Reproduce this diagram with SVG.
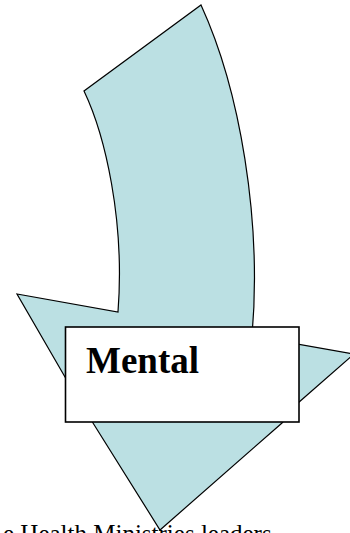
<svg xmlns="http://www.w3.org/2000/svg" width="350" height="533" viewBox="0 0 350 533">
<style>
.arrow{fill:#bbe0e3;stroke:#000;stroke-width:1.2;stroke-linejoin:miter}
.box{fill:#fff;stroke:#000;stroke-width:1.6}
.lbl{font-family:"Liberation Serif","Times New Roman",serif;font-weight:bold;font-size:37px;fill:#000}
.cap{font-family:"Liberation Serif","Times New Roman",serif;font-size:25px;fill:#000}
</style>
<rect width="350" height="533" fill="#fff"/>
<text class="cap" x="3" y="541.5">e Health Ministries leaders</text>
<g id="arrow">
<path class="arrow" d="M201,5 C240,90 262,220 252,336 L354,354 L298,403 L282,423 L160,530 L93,423 L65,377 L17,294 L118,312 C125,220 105,135 84,91 Z"/>
</g>
<g id="mental">
<rect class="box" x="65.5" y="327" width="233.5" height="95"/>
<text class="lbl" x="86" y="373">Mental</text>
</g>
</svg>
